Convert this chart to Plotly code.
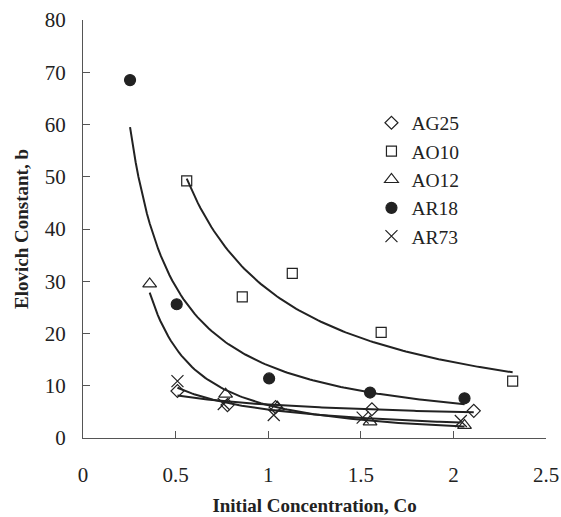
import numpy as np
import plotly.graph_objects as go

# Data
series_names = ["AG25", "AO10", "AO12", "AR18", "AR73"]
ag25_x = [0.51, 0.78, 1.04, 1.56, 2.11]
ag25_y = [9.0, 6.3, 5.9, 5.5, 5.2]
ao10_x = [0.56, 0.86, 1.13, 1.61, 2.32]
ao10_y = [49.2, 27.0, 31.5, 20.2, 10.9]
ao12_x = [0.36, 0.77, 1.05, 1.55, 2.06]
ao12_y = [29.5, 8.4, 5.9, 3.1, 2.4]
ar18_x = [0.254, 0.506, 1.005, 1.55, 2.06]
ar18_y = [68.5, 25.6, 11.4, 8.7, 7.6]
ar73_x = [0.51, 0.76, 1.03, 1.51, 2.04]
ar73_y = [10.9, 6.5, 4.4, 3.9, 3.25]

x_tick_vals = [0, 0.5, 1, 1.5, 2, 2.5]
x_tick_text = ["0", "0.5", "1", "1.5", "2", "2.5"]

xs = [ag25_x, ao10_x, ao12_x, ar18_x, ar73_x]
ys = [ag25_y, ao10_y, ao12_y, ar18_y, ar73_y]
symbols = ["diamond-open", "square-open", "triangle-up-open", "circle", "x-thin-open"]
sizes = [10, 10, 12, 11, 12]

ink = "#222222"
axis_col = "#555555"
fig = go.Figure()

# Power-law trendlines fitted to each series (log-log least squares)
for x, y in zip(xs, ys):
    lx, ly = np.log(x), np.log(y)
    b, a = np.polyfit(lx, ly, 1)
    xf = np.linspace(min(x), max(x), 120)
    yf = np.exp(a) * xf ** b
    fig.add_trace(go.Scatter(x=xf, y=yf, mode="lines", showlegend=False,
                             line=dict(color=ink, width=2), hoverinfo="skip"))

for name, x, y, s, sz in zip(series_names, xs, ys, symbols, sizes):
    fig.add_trace(go.Scatter(x=x, y=y, mode="markers", name=name,
                             marker=dict(symbol=s, size=sz, color=ink,
                                         line=dict(color=ink, width=1.2))))

font = "Liberation Serif, Times New Roman, serif"
fig.update_layout(
    width=561, height=517,
    margin=dict(l=83, r=15, t=20, b=79),
    plot_bgcolor="white", paper_bgcolor="white",
    font=dict(family=font, size=21, color=ink),
    legend=dict(x=0.623, y=0.8, xanchor="left", yanchor="top",
                bgcolor="rgba(0,0,0,0)", font=dict(size=19.5, family=font),
                itemwidth=30, tracegroupgap=0),
    xaxis=dict(range=[0, 2.5], tickvals=x_tick_vals, ticktext=x_tick_text,
               showgrid=False, zeroline=False, showline=True,
               linecolor=axis_col, linewidth=1.2, automargin=False,
               ticks="inside", ticklen=7, tickcolor=axis_col,
               ticklabelstandoff=18, tickfont=dict(size=21),
               title=dict(text="<b>Initial Concentration, Co</b>",
                          font=dict(size=19, family=font), standoff=12)),
    yaxis=dict(range=[0, 80], dtick=10, showgrid=False, zeroline=False,
               showline=True, linecolor=axis_col, linewidth=1.2, automargin=False,
               ticks="inside", ticklen=7, tickcolor=axis_col,
               ticklabelstandoff=12, tickfont=dict(size=21),
               title=dict(text="<b>Elovich Constant, b</b>",
                          font=dict(size=19, family=font), standoff=11)),
)

fig.write_html(
    "out.html",
    config={"displayModeBar": False},
    post_script="document.body.style.margin='0';document.body.style.overflow='hidden';",
)
